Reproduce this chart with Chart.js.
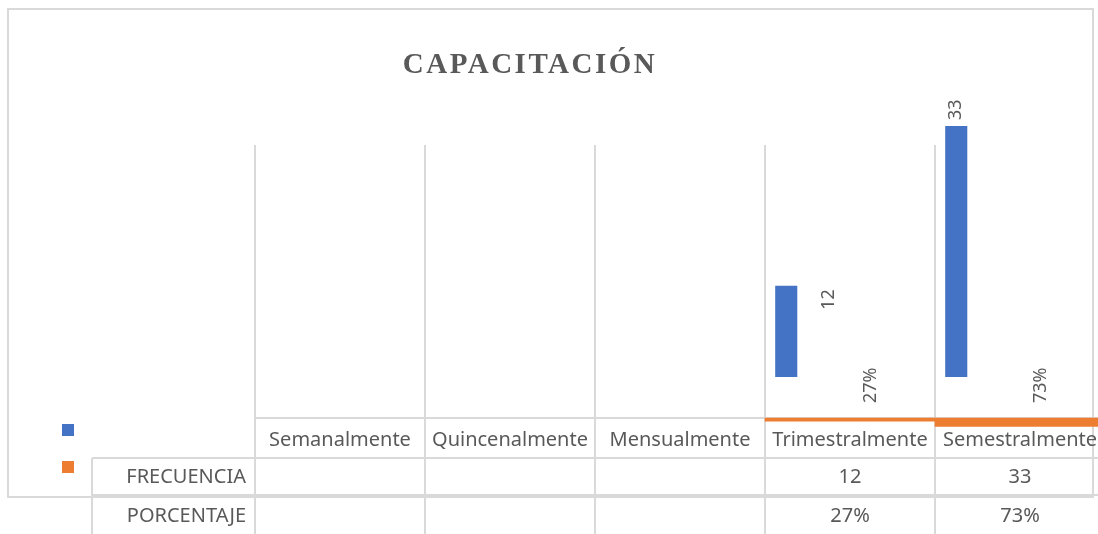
<!DOCTYPE html>
<html lang="es">
<head>
<meta charset="utf-8">
<title>Capacitación</title>
<script src="https://cdn.jsdelivr.net/npm/chart.js@4.4.1/dist/chart.umd.min.js"></script>
<style>
    html, body { margin: 0; padding: 0; background: #fff; overflow: hidden; }
    #wrap { width: 1110px; height: 534px; }
</style>
</head>
<body>
<div id="wrap"><canvas id="capacitacionChart" width="1110" height="534"></canvas></div>
<script>
    const titulo = 'CAPACITACIÓN';
    const categorias = ['Semanalmente', 'Quincenalmente', 'Mensualmente', 'Trimestralmente', 'Semestralmente'];
    const frecuencia = [null, null, null, 12, 33];
    const porcentaje = [null, null, null, 0.27, 0.73];
    const filas = ['FRECUENCIA', 'PORCENTAJE'];

    const gris = '#595959';
    const linea = '#d9d9d9';
    const azul = '#4472C4';
    const naranja = '#ED7D31';
    const fuente = '"Noto Sans", sans-serif';

    function formatoPorcentaje(v) {
        return v === null ? '' : Math.round(v * 100) + '%';
    }

    // Chart title, drawn by hand because it needs letter spacing
    const tituloPlugin = {
        id: 'tituloPlugin',
        afterDraw(chart) {
            const ctx = chart.ctx;
            ctx.save();
            ctx.font = 'bold 29px "Liberation Serif", serif';
            ctx.letterSpacing = '2.5px';
            ctx.fillStyle = gris;
            ctx.textAlign = 'center';
            ctx.textBaseline = 'alphabetic';
            ctx.fillText(titulo, 530, 73);
            ctx.restore();
        }
    };

    // Data table under the plot (Excel style), plus the outer chart border
    const tablaPlugin = {
        id: 'tablaPlugin',
        beforeDatasetsDraw(chart) {
            const ctx = chart.ctx;
            const x = chart.scales.x;
            const area = chart.chartArea;
            const ancho = x.width / categorias.length;
            const yCab = area.bottom;          // header row top
            const yFrec = yCab + 40;           // FRECUENCIA row top
            const yPorc = yFrec + 37;          // PORCENTAJE row top
            const yFin = chart.height;
            const xEtiq = 92;

            ctx.save();
            ctx.strokeStyle = linea;
            ctx.lineWidth = 2;

            // outer border of the chart
            ctx.strokeRect(8, 9, 1085, 488);

            ctx.beginPath();
            ctx.moveTo(area.left, yCab); ctx.lineTo(chart.width, yCab);
            ctx.moveTo(xEtiq, yFrec); ctx.lineTo(chart.width, yFrec);
            ctx.moveTo(xEtiq, yPorc); ctx.lineTo(chart.width, yPorc);
            ctx.moveTo(xEtiq, yFrec); ctx.lineTo(xEtiq, yFin);
            for (let i = 0; i <= categorias.length; i++) {
                const cx = x.left + i * ancho;
                ctx.moveTo(cx, yCab); ctx.lineTo(cx, yFin);
            }
            ctx.stroke();

            // legend keys
            ctx.fillStyle = azul;
            ctx.fillRect(62, 424, 12, 12);
            ctx.fillStyle = naranja;
            ctx.fillRect(62, 461, 12, 12);

            ctx.font = '20px ' + fuente;
            ctx.fillStyle = gris;
            ctx.textBaseline = 'middle';

            ctx.textAlign = 'right';
            ctx.fillText(filas[0], 246, yFrec + 19);
            ctx.fillText(filas[1], 246, yPorc + 21);

            ctx.textAlign = 'center';
            categorias.forEach((c, i) => {
                const cx = x.getPixelForValue(i);
                ctx.fillText(c, cx, yCab + 22);
                if (frecuencia[i] !== null) ctx.fillText(String(frecuencia[i]), cx, yFrec + 19);
                ctx.fillText(formatoPorcentaje(porcentaje[i]), cx, yPorc + 21);
            });
            ctx.restore();
        }
    };

    // Rotated data labels
    function textoVertical(ctx, texto, px, py) {
        ctx.save();
        ctx.translate(px, py);
        ctx.rotate(-Math.PI / 2);
        ctx.fillText(texto, 0, 0);
        ctx.restore();
    }

    const etiquetasPlugin = {
        id: 'etiquetasPlugin',
        afterDatasetsDraw(chart) {
            const ctx = chart.ctx;
            const area = chart.chartArea;
            const barras = chart.getDatasetMeta(0).data;
            const anclaFrec = chart.getDatasetMeta(1).data;
            const anclaPorc = chart.getDatasetMeta(2).data;

            ctx.save();
            ctx.font = '18px ' + fuente;
            ctx.fillStyle = gris;
            ctx.textAlign = 'left';
            ctx.textBaseline = 'middle';

            frecuencia.forEach((v, i) => {
                if (v === null) return;
                const b = barras[i];
                if (b.y < area.top) {
                    textoVertical(ctx, String(v), b.x, b.y - 6);
                } else {
                    textoVertical(ctx, String(v), anclaFrec[i].x, b.y + 24);
                }
            });

            porcentaje.forEach((v, i) => {
                if (v === null) return;
                textoVertical(ctx, formatoPorcentaje(v), anclaPorc[i].x, area.bottom - 15);
            });
            ctx.restore();
        }
    };

    const transparente = 'rgba(0,0,0,0)';
    const huecos = categorias.map(() => null);

    const ctx = document.getElementById('capacitacionChart').getContext('2d');
    const capacitacionChart = new Chart(ctx, {
        type: 'bar',
        data: {
            labels: categorias,
            datasets: [
                // the cluster has four slots like the Excel original: bar, two label slots, gap
                { label: 'FRECUENCIA', data: frecuencia, backgroundColor: azul, yAxisID: 'y', clip: false },
                { label: 'etiqueta frecuencia', data: frecuencia, backgroundColor: transparente, yAxisID: 'y' },
                { label: 'etiqueta porcentaje', data: porcentaje, backgroundColor: transparente, yAxisID: 'y2' },
                { label: 'hueco', data: huecos, backgroundColor: transparente, yAxisID: 'y' },
                {
                    label: 'PORCENTAJE', data: porcentaje, backgroundColor: naranja, yAxisID: 'y2',
                    grouped: false, barPercentage: 1, categoryPercentage: 1, clip: false
                }
            ]
        },
        options: {
            responsive: false,
            animation: false,
            layout: { padding: { left: 255, right: 5, top: 145, bottom: 116 } },
            plugins: {
                legend: { display: false },
                title: { display: false },
                tooltip: { enabled: false }
            },
            datasets: {
                bar: { categoryPercentage: 1, barPercentage: 0.52 }
            },
            scales: {
                x: {
                    offset: true,
                    ticks: { display: false },
                    grid: { color: linea, lineWidth: 2, drawTicks: false, offset: true },
                    border: { display: false }
                },
                y: { display: false, min: -5.4, max: 30.5 },
                y2: { display: false, reverse: true, min: -23.45, max: 0 }
            }
        },
        plugins: [tablaPlugin, etiquetasPlugin, tituloPlugin]
    });
</script>
</body>
</html>
